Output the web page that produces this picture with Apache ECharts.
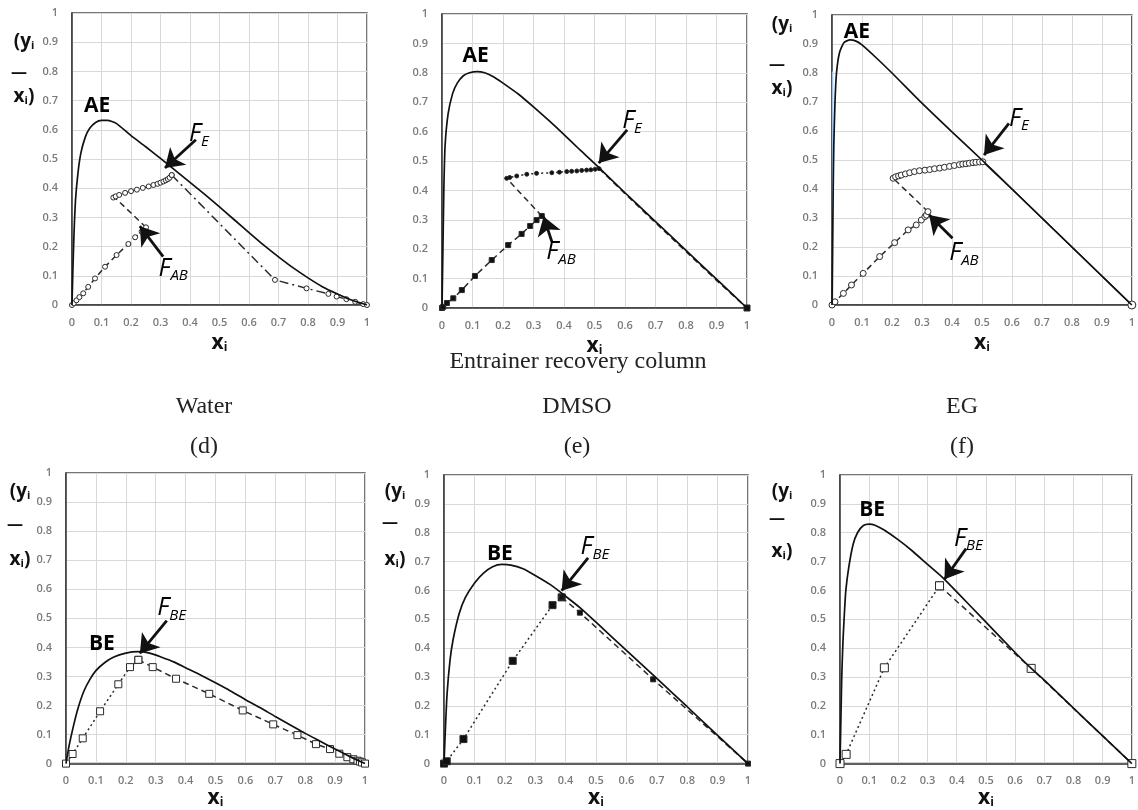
<!DOCTYPE html>
<html>
<head>
<meta charset="utf-8">
<script src="https://cdn.jsdelivr.net/npm/echarts@6/dist/echarts.min.js"></script>
<style>
html, body { margin: 0; padding: 0; background: #fff; }
#main { width: 1138px; height: 810px; }
</style>
</head>
<body>
<div id="main"></div>
<script>
// ---- (a) Water, extractive column ----
var waterAE = [[0,0],[0.003,0.12],[0.007,0.25],[0.012,0.36],[0.02,0.45],[0.03,0.52],[0.045,0.575],[0.06,0.605],[0.08,0.625],[0.1,0.632],[0.12,0.632],[0.15,0.622],[0.2,0.58],[0.25,0.542],[0.3,0.502],[0.35,0.461],[0.4,0.42],[0.45,0.379],[0.5,0.336],[0.55,0.292],[0.6,0.248],[0.65,0.205],[0.7,0.165],[0.75,0.127],[0.8,0.093],[0.85,0.062],[0.9,0.038],[0.95,0.016],[1,0]];
var waterLow = [[0,0],[0.006,0.006],[0.015,0.016],[0.025,0.027],[0.038,0.04],[0.055,0.062],[0.078,0.091],[0.112,0.131],[0.151,0.171],[0.191,0.209],[0.214,0.232],[0.236,0.251],[0.251,0.266]];
var waterLink = [[0.251,0.266],[0.145,0.368]];
var waterUp = [[0.14,0.368],[0.148,0.372],[0.16,0.377],[0.18,0.384],[0.2,0.39],[0.22,0.395],[0.24,0.401],[0.26,0.406],[0.276,0.411],[0.29,0.415],[0.3,0.419],[0.31,0.423],[0.318,0.427],[0.325,0.431],[0.331,0.436],[0.338,0.445]];
var waterTail = [[0.338,0.445],[0.688,0.086],[0.795,0.057],[0.869,0.038],[0.897,0.029],[0.93,0.02],[0.96,0.011],[0.987,0.003],[1,0]];

// ---- (b) DMSO, extractive column ----
var dmsoAE = [[0,0],[0.003,0.2],[0.006,0.4],[0.01,0.55],[0.02,0.66],[0.035,0.73],[0.05,0.765],[0.07,0.79],[0.09,0.8],[0.115,0.804],[0.14,0.8],[0.17,0.786],[0.2,0.765],[0.25,0.728],[0.3,0.684],[0.35,0.638],[0.4,0.59],[0.45,0.54],[0.5,0.492],[0.6,0.392],[0.7,0.294],[0.8,0.196],[0.9,0.098],[1,0]];
var dmsoLow = [[0,0],[0.004,0.004],[0.016,0.017],[0.037,0.033],[0.065,0.061],[0.108,0.109],[0.163,0.163],[0.217,0.214],[0.261,0.252],[0.289,0.279],[0.31,0.299],[0.327,0.313]];
var dmsoLink = [[0.327,0.313],[0.212,0.441]];
var dmsoUp = [[0.212,0.441],[0.222,0.444],[0.245,0.449],[0.278,0.455],[0.31,0.458],[0.36,0.46],[0.385,0.462],[0.409,0.464],[0.425,0.465],[0.442,0.466],[0.458,0.468],[0.474,0.469],[0.488,0.47],[0.502,0.472],[0.515,0.474]];
var dmsoTail = [[0.515,0.474],[0.6,0.389],[0.7,0.29],[0.8,0.192],[0.9,0.094],[1,0]];

// ---- (c) EG, extractive column ----
var egAE = [[0,0],[0.002,0.2],[0.004,0.4],[0.006,0.55],[0.01,0.7],[0.015,0.8],[0.025,0.87],[0.04,0.905],[0.06,0.914],[0.08,0.91],[0.1,0.897],[0.15,0.85],[0.2,0.8],[0.3,0.696],[0.4,0.597],[0.5,0.5],[0.6,0.4],[0.7,0.3],[0.8,0.2],[0.9,0.1],[1,0]];
var egLow = [[0,0],[0.01,0.011],[0.038,0.04],[0.065,0.069],[0.104,0.109],[0.159,0.167],[0.209,0.215],[0.254,0.259],[0.281,0.276],[0.298,0.293],[0.31,0.305],[0.315,0.31],[0.32,0.322]];
var egLink = [[0.32,0.322],[0.204,0.437]];
var egUp = [[0.204,0.437],[0.212,0.442],[0.222,0.445],[0.231,0.448],[0.245,0.452],[0.259,0.456],[0.275,0.46],[0.292,0.463],[0.31,0.465],[0.326,0.467],[0.342,0.47],[0.359,0.472],[0.375,0.475],[0.392,0.478],[0.408,0.481],[0.425,0.484],[0.436,0.486],[0.447,0.487],[0.458,0.489],[0.47,0.491],[0.48,0.492],[0.492,0.493],[0.503,0.494]];
var egTail = [[0.503,0.494],[0.6,0.4],[0.7,0.3],[0.8,0.2],[0.9,0.1],[1,0]];
var egBlue = [[0.002,0],[0.002,0.805]];

// ---- (d) Water, entrainer recovery column ----
var waterBE = [[0,0],[0.01,0.06],[0.025,0.13],[0.04,0.19],[0.06,0.25],[0.08,0.29],[0.1,0.32],[0.13,0.348],[0.16,0.367],[0.2,0.38],[0.24,0.385],[0.28,0.38],[0.32,0.366],[0.36,0.35],[0.4,0.33],[0.45,0.305],[0.5,0.278],[0.55,0.25],[0.6,0.22],[0.65,0.192],[0.7,0.162],[0.75,0.133],[0.8,0.104],[0.85,0.077],[0.9,0.05],[0.95,0.024],[1,0]];
var waterStrip = [[0,0],[0.022,0.033],[0.056,0.087],[0.114,0.18],[0.175,0.273],[0.214,0.332],[0.242,0.357]];
var waterRect = [[0.242,0.357],[0.29,0.332],[0.368,0.292],[0.479,0.24],[0.591,0.183],[0.693,0.135],[0.774,0.098],[0.836,0.067],[0.883,0.05],[0.914,0.034],[0.941,0.022],[0.961,0.015],[0.975,0.01],[0.983,0.007],[0.99,0.004],[1,0]];

// ---- (e) DMSO, entrainer recovery column ----
var dmsoBE = [[0,0],[0.005,0.13],[0.01,0.24],[0.02,0.36],[0.03,0.43],[0.05,0.52],[0.07,0.575],[0.1,0.625],[0.13,0.66],[0.16,0.682],[0.19,0.69],[0.22,0.688],[0.26,0.675],[0.3,0.652],[0.35,0.62],[0.4,0.58],[0.45,0.538],[0.5,0.49],[0.6,0.392],[0.7,0.295],[0.8,0.197],[0.9,0.098],[1,0]];
var dmsoStrip = [[0,0],[0.009,0.008],[0.064,0.085],[0.226,0.356],[0.357,0.549],[0.387,0.576]];
var dmsoRect = [[0.387,0.576],[0.447,0.523],[0.688,0.292],[1,0]];

// ---- (f) EG, entrainer recovery column ----
var egBE = [[0,0],[0.003,0.15],[0.006,0.3],[0.01,0.42],[0.015,0.52],[0.02,0.6],[0.03,0.68],[0.045,0.76],[0.06,0.8],[0.08,0.825],[0.1,0.83],[0.12,0.826],[0.15,0.81],[0.2,0.775],[0.25,0.735],[0.3,0.69],[0.35,0.646],[0.4,0.595],[0.5,0.49],[0.6,0.385],[0.65,0.335],[0.7,0.289],[0.8,0.192],[0.9,0.096],[1,0]];
var egStrip = [[0,0],[0.021,0.032],[0.152,0.332],[0.341,0.616]];
var egRect = [[0.341,0.616],[0.655,0.33],[1,0]];

// tick labels
var ticks = ['0','0.1','0.2','0.3','0.4','0.5','0.6','0.7','0.8','0.9','1'];

// annotations: [x, y, text, subscript]
var notesA = [[0.085,0.68,'AE',''],[0.43,0.585,'F','E'],[0.343,0.125,'F','AB']];
var notesB = [[0.11,0.858,'AE',''],[0.623,0.635,'F','E'],[0.39,0.19,'F','AB']];
var notesC = [[0.083,0.94,'AE',''],[0.623,0.643,'F','E'],[0.44,0.18,'F','AB']];
var notesD = [[0.12,0.41,'BE',''],[0.353,0.535,'F','BE']];
var notesE = [[0.184,0.727,'BE',''],[0.496,0.75,'F','BE']];
var notesF = [[0.11,0.877,'BE',''],[0.44,0.78,'F','BE']];
// arrows: [from, to]
var arrowsA = [[[0.42,0.566],[0.315,0.469]],[[0.309,0.166],[0.23,0.27]]];
var arrowsB = [[[0.607,0.606],[0.514,0.493]],[[0.36,0.226],[0.333,0.311]]];
var arrowsC = [[[0.59,0.626],[0.507,0.517]],[[0.402,0.23],[0.324,0.31]]];
var arrowsD = [[[0.337,0.492],[0.247,0.379]]];
var arrowsE = [[[0.474,0.713],[0.387,0.599]]];
var arrowsF = [[[0.432,0.745],[0.358,0.639]]];

var ink = '#111';
var sans = '"Open Sans", "Liberation Sans", sans-serif';
var dash = [6, 4], dashDot = [9, 4, 2, 4], dot = [2, 3];

var boxes = [
    [72, 13, 295, 292], [442, 14, 305, 294], [832, 15, 301, 290],
    [66, 473, 299, 295], [444, 475, 304, 293], [840, 475, 292, 291]
];
var nameGaps = [27, 27, 27, 20, 20, 20];

var grids = [], xAxes = [], yAxes = [];
boxes.forEach(function (b, i) {
    grids.push({ left: b[0], top: b[1], width: b[2], height: b[3], show: true,
        borderColor: '#4a4a4a', borderWidth: 1.5, containLabel: false });
    xAxes.push({
        type: 'value', gridIndex: i, min: 0, max: 1, interval: 0.1,
        name: '{x|x}{i|i}', nameLocation: 'middle', nameGap: nameGaps[i],
        nameTextStyle: { rich: {
            x: { fontFamily: sans, fontWeight: 'bold', fontSize: 21, color: ink, lineHeight: 22, verticalAlign: 'middle' },
            i: { fontFamily: sans, fontWeight: 'bold', fontSize: 12, color: ink, lineHeight: 10, verticalAlign: 'bottom' }
        } },
        axisLine: { show: true, lineStyle: { color: '#3a3a3a', width: 1.5 } },
        axisTick: { show: false },
        axisLabel: { color: '#7a7a7a', fontSize: 11, fontFamily: sans, fontWeight: 600, margin: 12,
            formatter: function (v) { return ticks[Math.round(v * 10)]; } },
        splitLine: { lineStyle: { color: '#d9d9d9', width: 1 } }
    });
    yAxes.push({
        type: 'value', gridIndex: i, min: 0, max: 1, interval: 0.1,
        axisLine: { show: true, lineStyle: { color: '#3a3a3a', width: 1.5 } },
        axisTick: { show: false },
        axisLabel: { color: '#7a7a7a', fontSize: 11, fontFamily: sans, fontWeight: 600, margin: 14,
            formatter: function (v) { return ticks[Math.round(v * 10)]; } },
        splitLine: { lineStyle: { color: '#d9d9d9', width: 1 } }
    });
});

function curve(g, data) {
    return { type: 'line', xAxisIndex: g, yAxisIndex: g, data: data, smooth: 0.2,
        symbol: 'none', lineStyle: { color: ink, width: 1.7 }, z: 4 };
}
function marks(g, data, lineType, sym, size, fill) {
    return { type: 'line', xAxisIndex: g, yAxisIndex: g, data: data, symbol: sym, symbolSize: size,
        showSymbol: sym !== 'none', lineStyle: { color: '#2a2a2a', width: 1.5, type: lineType },
        itemStyle: { color: fill, borderColor: '#2a2a2a', borderWidth: 1 }, z: 3 };
}
function tail(g, data, sym, size, fill, lineType) {
    var s = marks(g, data, lineType, sym, size, fill);
    s.symbolSize = function (v, p) { return p.dataIndex === data.length - 1 ? size : 0; };
    return s;
}
function notes(g, items, arrows) {
    return {
        type: 'scatter', xAxisIndex: g, yAxisIndex: g, symbolSize: 0, silent: true, z: 10,
        data: items,
        label: {
            show: true, position: 'inside', color: ink, textBorderWidth: 0, opacity: 1,
            formatter: function (p) {
                var d = p.data;
                return d[3] ? '{f|' + d[2] + '}{s|' + d[3] + '}' : '{big|' + d[2] + '}';
            },
            rich: {
                big: { fontFamily: sans, fontWeight: 'bold', fontSize: 21, color: '#000', textBorderWidth: 0 },
                f: { fontFamily: sans, fontStyle: 'italic', fontSize: 25, color: '#000', lineHeight: 30, verticalAlign: 'middle', textBorderWidth: 0 },
                s: { fontFamily: sans, fontStyle: 'italic', fontSize: 15, color: '#000', lineHeight: 14, verticalAlign: 'bottom', textBorderWidth: 0 }
            }
        },
        markLine: {
            silent: true, symbol: ['none', 'arrow'], symbolSize: 18,
            label: { show: false },
            lineStyle: { color: ink, width: 2.8, type: 'solid' },
            data: arrows.map(function (a) { return [{ coord: a[0] }, { coord: a[1] }]; })
        }
    };
}

var series = [
    // (a)
    curve(0, waterAE),
    marks(0, waterLow, dash, 'circle', 5, '#fff'),
    marks(0, waterLink, dash, 'none', 0, '#fff'),
    marks(0, waterUp, dash, 'circle', 5, '#fff'),
    marks(0, waterTail, dashDot, 'circle', 5, '#fff'),
    notes(0, notesA, arrowsA),
    // (b)
    curve(1, dmsoAE),
    marks(1, dmsoLow, dash, 'rect', 5, '#111'),
    marks(1, dmsoLink, dash, 'none', 0, '#111'),
    marks(1, dmsoUp, dot, 'circle', 4, '#111'),
    tail(1, dmsoTail, 'rect', 6, '#111', dash),
    notes(1, notesB, arrowsB),
    // (c)
    { type: 'line', xAxisIndex: 2, yAxisIndex: 2, data: egBlue, symbol: 'none',
      lineStyle: { color: '#9dc3e6', width: 1.5 }, z: 2 },
    curve(2, egAE),
    marks(2, egLow, dash, 'circle', 6, '#fff'),
    marks(2, egLink, dash, 'none', 0, '#fff'),
    marks(2, egUp, dash, 'circle', 6, '#fff'),
    tail(2, egTail, 'circle', 8, '#fff', 'solid'),
    notes(2, notesC, arrowsC),
    // (d)
    curve(3, waterBE),
    marks(3, waterStrip, dot, 'rect', 7, '#fff'),
    marks(3, waterRect, dash, 'rect', 7, '#fff'),
    notes(3, notesD, arrowsD),
    // (e)
    curve(4, dmsoBE),
    marks(4, dmsoStrip, dot, 'rect', 7, '#111'),
    marks(4, dmsoRect, dash, 'rect', 5, '#111'),
    notes(4, notesE, arrowsE),
    // (f)
    curve(5, egBE),
    marks(5, egStrip, dot, 'rect', 8, '#fff'),
    marks(5, egRect, dash, 'rect', 8, '#fff'),
    notes(5, notesF, arrowsF)
];

// stacked y-axis title "(yi − xi)"
function yName(cx, y1, y2, y3) {
    var rich = {
        a: { fontFamily: sans, fontWeight: 'bold', fontSize: 19, fill: ink },
        b: { fontFamily: sans, fontWeight: 'bold', fontSize: 11, fill: ink, verticalAlign: 'bottom', lineHeight: 8 }
    };
    return [
        { type: 'text', x: cx, y: y1, style: { text: '{a|(y}{b|i}', rich: rich, align: 'center', verticalAlign: 'middle' } },
        { type: 'text', x: cx - 5, y: y2, style: { text: '—', font: 'bold 16px ' + sans, fill: ink, align: 'center', verticalAlign: 'middle' } },
        { type: 'text', x: cx, y: y3, style: { text: '{a|x}{b|i}{a|)}', rich: rich, align: 'center', verticalAlign: 'middle' } }
    ];
}
function serifText(text, x, y) {
    return { type: 'text', x: x, y: y, style: { text: text, font: '24px "Liberation Serif", serif',
        fill: '#222', align: 'center', verticalAlign: 'middle' } };
}

var graphics = []
    .concat(yName(24, 42, 72, 97))
    .concat(yName(782, 25, 64, 89))
    .concat(yName(20, 492, 524, 560))
    .concat(yName(395, 492, 522, 560))
    .concat(yName(782, 492, 518, 552))
    .concat([
        serifText('Entrainer recovery column', 578, 362),
        serifText('Water', 204, 407), serifText('DMSO', 577, 407), serifText('EG', 962, 407),
        serifText('(d)', 204, 447), serifText('(e)', 577, 447), serifText('(f)', 962, 447)
    ]);

var myChart = echarts.init(document.getElementById('main'), null, { renderer: 'canvas' });
var option = {
    backgroundColor: '#fff',
    animation: false,
    grid: grids,
    xAxis: xAxes,
    yAxis: yAxes,
    series: series,
    graphic: graphics
};
myChart.setOption(option);
</script>
</body>
</html>
